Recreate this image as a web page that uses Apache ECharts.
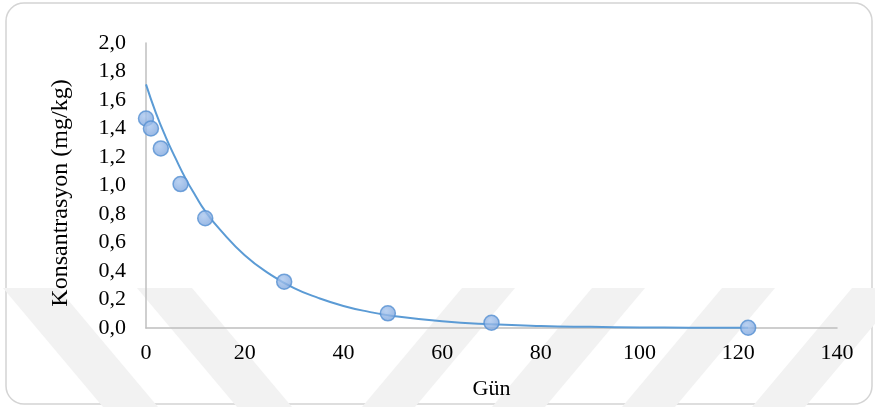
<!DOCTYPE html>
<html>
<head>
<meta charset="utf-8">
<script src="https://cdn.jsdelivr.net/npm/echarts@6/dist/echarts.min.js"></script>
<style>
html,body{margin:0;padding:0;background:#fff;}
#chart{width:875px;height:407px;}
</style>
</head>
<body>
<div id="chart"></div>
<script>
// Measured data points (day, concentration mg/kg)
const days = [0, 1, 3, 7, 12, 28, 49, 70, 122];
const conc = [1.47, 1.40, 1.26, 1.01, 0.77, 0.325, 0.103, 0.037, 0.002];

// Trend line
const trendX = [0, 2, 4, 6, 8, 10, 12, 15, 20, 25, 30, 35, 40, 45, 50, 60, 70, 80, 90, 100, 110, 122];
const trendY = [1.71, 1.51, 1.34, 1.19, 1.05, 0.93, 0.82, 0.69, 0.51, 0.38, 0.28, 0.21, 0.155, 0.115, 0.085, 0.047, 0.026, 0.014, 0.008, 0.004, 0.002, 0.001];

// Axis settings
const xTicks = [0, 20, 40, 60, 80, 100, 120, 140];
const yTicks = [0, 0.2, 0.4, 0.6, 0.8, 1.0, 1.2, 1.4, 1.6, 1.8, 2.0];
const xTitle = 'Gün';
const yTitle = 'Konsantrasyon (mg/kg)';

const FONT = '"Liberation Serif", "Times New Roman", serif';

// Watermark stripes (decorative background)
function stripe(pts){
  return {type:'polygon', z:-10, silent:true, shape:{points:pts}, style:{fill:'#f2f2f2'}};
}
const stripes = [];
const topY = 288, botY = 407, shift = 100;
[3, 137].forEach(function(x0){
  stripes.push(stripe([[x0,topY],[x0+55,topY],[x0+55+shift,botY],[x0+shift,botY]]));
});
[462, 592, 722, 852].forEach(function(x0){
  stripes.push(stripe([[x0,topY],[x0+53,topY],[x0+53-shift,botY],[x0-shift,botY]]));
});

const chart = echarts.init(document.getElementById('chart'), null, {renderer:'canvas'});
chart.setOption({
  backgroundColor:'#ffffff',
  animation:false,
  grid:{left:146, right:38, top:43, bottom:79, containLabel:false},
  xAxis:{
    type:'value', min:xTicks[0], max:xTicks[xTicks.length-1], interval:20,
    name:xTitle, nameLocation:'middle', nameGap:50,
    nameTextStyle:{fontFamily:FONT, fontSize:22, color:'#000'},
    axisLine:{show:true, lineStyle:{color:'#bfbfbf', width:1.5}},
    axisTick:{show:false},
    splitLine:{show:false},
    axisLabel:{fontFamily:FONT, fontSize:22, color:'#000', margin:14,
      formatter:function(v){return String(v);}}
  },
  yAxis:{
    type:'value', min:yTicks[0], max:yTicks[yTicks.length-1], interval:0.2,
    axisLine:{show:true, lineStyle:{color:'#bfbfbf', width:1.5}},
    axisTick:{show:false},
    splitLine:{show:false},
    axisLabel:{fontFamily:FONT, fontSize:22, color:'#000', margin:20,
      formatter:function(v){return v.toFixed(1).replace('.', ',');}}
  },
  graphic:[
    {type:'rect', z:-20, silent:true, shape:{x:6, y:3, width:866, height:401, r:18},
      style:{fill:'#ffffff', stroke:'#d4d4d4', lineWidth:1.5}},
  ].concat(stripes).concat([
    {type:'text', x:61, y:193, rotation:Math.PI/2, silent:true,
      style:{text:yTitle, font:'24px ' + FONT, fill:'#000',
        textAlign:'center', textVerticalAlign:'middle', align:'center', verticalAlign:'middle'}}
  ]),
  series:[
    {
      type:'line',
      data:trendX.map(function(x,i){return [x, trendY[i]];}),
      smooth:true,
      showSymbol:false,
      lineStyle:{color:'#5b9bd5', width:2},
      z:2
    },
    {
      type:'scatter',
      data:days.map(function(x,i){return [x, conc[i]];}),
      symbol:'circle',
      symbolSize:15,
      itemStyle:{
        color:new echarts.graphic.RadialGradient(0.4,0.35,0.7,[
          {offset:0,color:'#a9c6ee'},{offset:1,color:'#7aa3dc'}]),
        borderColor:'#5590d2', borderWidth:1.5
      },
      z:3
    }
  ]
});
</script>
</body>
</html>
